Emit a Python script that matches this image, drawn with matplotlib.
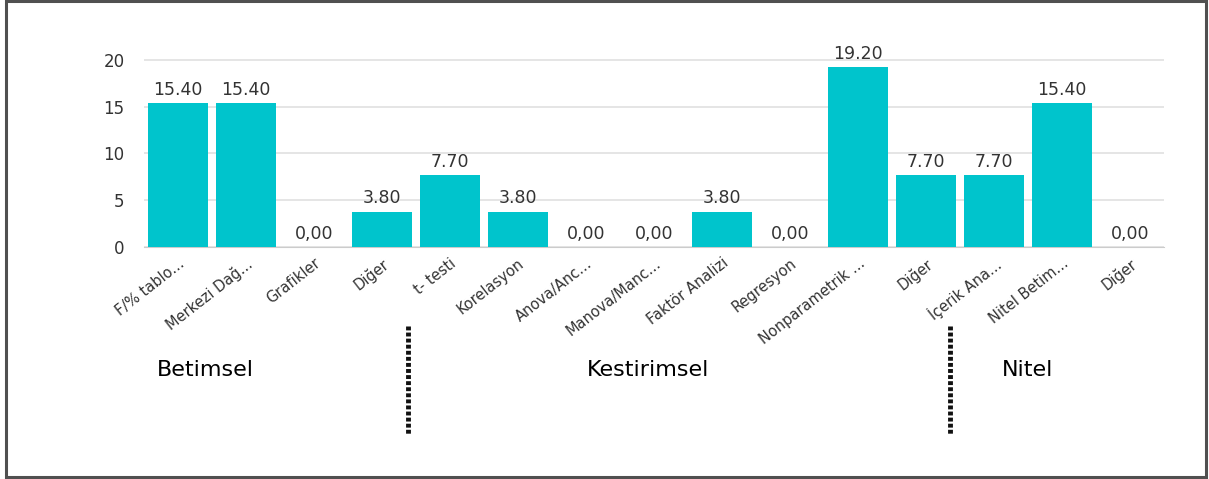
import numpy as np
import matplotlib.pyplot as plt
from matplotlib.lines import Line2D
from matplotlib.patches import Rectangle

categories = ["F/% tablo...", "Merkezi Dağ...", "Grafikler", "Diğer", "t- testi",
              "Korelasyon", "Anova/Anc...", "Manova/Manc...", "Faktör Analizi",
              "Regresyon", "Nonparametrik ...", "Diğer", "İçerik Ana...",
              "Nitel Betim...", "Diğer"]
values = [15.4, 15.4, 0.0, 3.8, 7.7, 3.8, 0.0, 0.0, 3.8, 0.0, 19.2, 7.7, 7.7, 15.4, 0.0]
value_labels = ["15.40", "15.40", "0,00", "3.80", "7.70", "3.80", "0,00", "0,00",
                "3.80", "0,00", "19.20", "7.70", "7.70", "15.40", "0,00"]
groups = ["Betimsel", "Kestirimsel", "Nitel"]
yticks = [0, 5, 10, 15, 20]

plt.rcParams['font.family'] = ['DejaVu Sans']

fig = plt.figure(figsize=(12.09, 4.79), dpi=100)
ax = fig.add_axes([0.119, 0.484, 0.844, 0.393])

x = np.arange(len(values))
ax.bar(x, values, width=0.88, color='#00c4cc', zorder=3)
for xi, v, lab in zip(x, values, value_labels):
    ax.text(xi, v + 0.45, lab, ha='center', va='bottom', fontsize=12.5, color='#333333')

ax.set_xlim(-0.5, len(values) - 0.5)
ax.set_ylim(0, 20.08)
ax.set_yticks(yticks)
ax.set_yticklabels([str(t) for t in yticks], fontsize=12, color='#333333')
ax.yaxis.grid(True, color='#e3e3e3', linewidth=1.3, zorder=0)
ax.tick_params(axis='y', length=0, pad=14)
ax.set_xticks(x)
ax.set_xticklabels(categories, rotation=38, ha='right', rotation_mode='anchor',
                   fontsize=10.5, color='#333333')
ax.tick_params(axis='x', length=0, pad=6)
for s in ['top', 'right', 'left']:
    ax.spines[s].set_visible(False)
ax.spines['bottom'].set_color('#cccccc')
ax.set_axisbelow(True)

# group labels
fig.text(205 / 1209, 1 - 370 / 479, groups[0], ha='center', va='center', fontsize=16)
fig.text(648 / 1209, 1 - 370 / 479, groups[1], ha='center', va='center', fontsize=16)
fig.text(1028 / 1209, 1 - 370 / 479, groups[2], ha='center', va='center', fontsize=16)

# dotted separators
for px in [408, 950]:
    fig.add_artist(Line2D([px / 1209, px / 1209], [1 - 326 / 479, 1 - 434 / 479],
                          color='#111111', linewidth=3.5, linestyle=(0, (0.8, 0.45)),
                          dash_capstyle='butt'))

# outer frame
fig.add_artist(Rectangle((6 / 1209, 2 / 479), 1200 / 1209, 476 / 479,
                         fill=False, edgecolor='#505050', linewidth=2.2,
                         transform=fig.transFigure))

fig.savefig("out.png", dpi=100)
